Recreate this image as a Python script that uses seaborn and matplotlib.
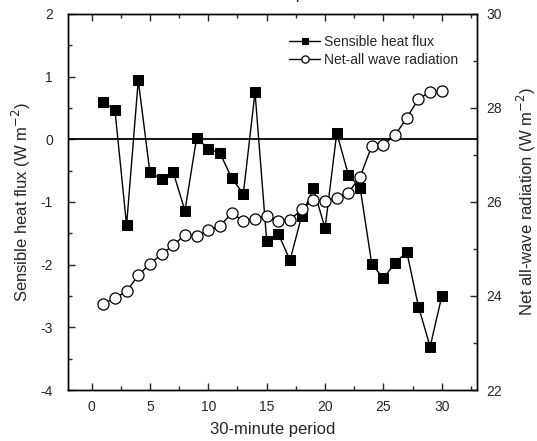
import matplotlib
matplotlib.use("Agg")
import matplotlib.pyplot as plt
import seaborn as sns
import numpy as np
from matplotlib.ticker import MultipleLocator, FuncFormatter

periods = list(range(1, 31))
sensible_heat = [0.59, 0.47, -1.37, 0.94, -0.53, -0.63, -0.53, -1.14, 0.02, -0.15,
                 -0.22, -0.62, -0.87, 0.75, -1.62, -1.51, -1.93, -1.22, -0.78, -1.42,
                 0.10, -0.57, -0.77, -1.99, -2.22, -1.97, -1.80, -2.67, -3.31, -2.50]
net_radiation = [23.84, 23.95, 24.10, 24.44, 24.68, 24.89, 25.08, 25.30, 25.27, 25.40,
                 25.49, 25.76, 25.60, 25.64, 25.71, 25.59, 25.62, 25.84, 26.05, 26.02,
                 26.09, 26.20, 26.53, 27.19, 27.22, 27.42, 27.79, 28.19, 28.34, 28.36]

sns.set_style("ticks")
plt.rcParams['font.family'] = ['Liberation Sans', 'DejaVu Sans']

fig = plt.figure(figsize=(5.37, 4.41), dpi=100)
ax1 = fig.add_axes([0.127, 0.1156, 0.761, 0.853])
ax2 = ax1.twinx()

ax1.axhline(0, color='black', lw=1.3, zorder=1)

sns.lineplot(x=periods, y=sensible_heat, ax=ax1, color='black', lw=1.0,
             marker='s', markersize=7.5, markerfacecolor='black',
             markeredgecolor='black', label='Sensible heat flux', legend=False)
sns.lineplot(x=periods, y=net_radiation, ax=ax2, color='black', lw=1.0,
             marker='o', markersize=8, markerfacecolor='white',
             markeredgecolor='black', markeredgewidth=0.9,
             label='Net-all wave radiation', legend=False)

ax1.set_xlim(-2, 33)
ax1.set_ylim(-4, 2)
ax2.set_ylim(22, 30)

fmt = FuncFormatter(lambda v, p: f"{v:g}".replace('\u2212', '-'))
ax1.xaxis.set_major_locator(MultipleLocator(5))
ax1.xaxis.set_minor_locator(MultipleLocator(2.5))
ax1.yaxis.set_major_locator(MultipleLocator(1))
ax1.yaxis.set_minor_locator(MultipleLocator(0.5))
ax1.yaxis.set_major_formatter(fmt)
ax2.yaxis.set_major_locator(MultipleLocator(2))
ax2.yaxis.set_minor_locator(MultipleLocator(1))

ax1.tick_params(which='both', direction='in', top=True, bottom=True, left=True,
                right=False, labelsize=10, width=1.0)
ax1.tick_params(axis='x', which='both', pad=7)
ax1.tick_params(axis='y', which='both', pad=11)
ax1.tick_params(which='major', length=5)
ax1.tick_params(which='minor', length=3)
ax2.tick_params(which='both', direction='in', right=True, labelsize=10, pad=7, width=1.0)
ax2.tick_params(which='major', length=5)
ax2.tick_params(which='minor', length=3)

for a in (ax1, ax2):
    for s in a.spines.values():
        s.set_visible(True)
        s.set_linewidth(1.0)
        s.set_color('black')

ax1.set_xlabel('30-minute period', fontsize=12, labelpad=6)
ax1.set_ylabel('Sensible heat flux (W m$^{-2}$)', fontsize=12, labelpad=5)
ax2.set_ylabel('Net all-wave radiation (W m$^{-2}$)', fontsize=12, labelpad=9)

h1, l1 = ax1.get_legend_handles_labels()
h2, l2 = ax2.get_legend_handles_labels()
ax2.legend(h1 + h2, l1 + l2, loc='upper right', bbox_to_anchor=(0.975, 0.965),
           frameon=False, fontsize=10, handlelength=2.2, handletextpad=0.3,
           borderaxespad=0.2, labelspacing=0.25, markerscale=0.65)

fig.text(0.52, 1.012, '30-minute period', ha='center', va='center', fontsize=12)

fig.savefig('out.png', dpi=100)
